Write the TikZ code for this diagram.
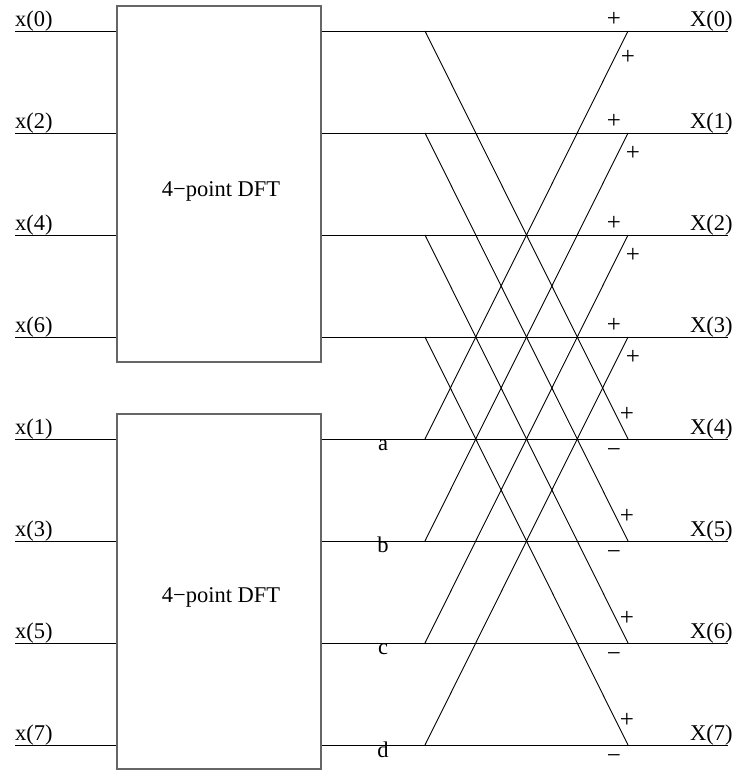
\documentclass[tikz,border=0pt]{standalone}
\usepackage{fontspec}
\setmainfont{Liberation Serif}
\usetikzlibrary{positioning,calc}

\begin{document}
\begin{tikzpicture}[x=1pt, y=1pt]

\tikzset{
  dft/.style={
    rectangle, draw=black!60, line width=1.3pt,
    minimum width=204pt, minimum height=356pt, inner sep=0pt
  },
  wire/.style={line width=0.9pt},
  lbl/.style={font=\fontsize{22.5}{26}\selectfont, inner sep=0pt},
  sgn/.style={font=\fontsize{25}{28}\selectfont, inner sep=0pt}
}

\useasboundingbox (0,0) rectangle (735,772);

% ==========================
% Rows (inputs, butterfly ends, outputs)
% ==========================
\foreach \k in {0,...,7}{
  \coordinate (in\k)  at (15, 741-102*\k);
  \coordinate (bf\k)  at (425, 741-102*\k);
  \coordinate (be\k)  at (628, 741-102*\k);
  \coordinate (out\k) at (728, 741-102*\k);
}

% ==========================
% The two 4-point DFT blocks
% ==========================
\node[dft] (dfttop) at (219, 588) {};
\node[dft, minimum height=355pt] (dftbot) at (219, 180.5) {};

\node[lbl, anchor=base] (ttop) at ($(dfttop.center)+(2,-13)$) {4−point DFT};
\node[lbl, anchor=base] (tbot) at ($(dftbot.center)+(2,-11.5)$) {4−point DFT};

% inputs into the blocks
\foreach \k in {0,...,3}
  \draw[wire] (in\k) -- (in\k -| dfttop.west);
\foreach \k in {4,...,7}
  \draw[wire] (in\k) -- (in\k -| dftbot.west);

% outputs of the blocks
\foreach \k in {0,...,3}
  \draw[wire] (out\k -| dfttop.east) -- (out\k);
\foreach \k in {4,...,7}
  \draw[wire] (out\k -| dftbot.east) -- (out\k);

% ==========================
% Butterflies
% ==========================
\foreach \k [evaluate=\k as \j using int(\k+4)] in {0,...,3}{
  \draw[wire] (bf\k) -- (be\j);
  \draw[wire] (bf\j) -- (be\k);
}

% ==========================
% Labels
% ==========================
\foreach \k/\t in {0/0,1/2,2/4,3/6,4/1,5/3,6/5,7/7}
  \node[lbl, anchor=south west] (xin\k) at (in\k) {x(\t)};
\foreach \k in {0,...,7}
  \node[lbl, anchor=south west] (xout\k) at ($(out\k)+(-38,0)$) {X(\k)};

\foreach \k/\t in {4/a,5/b,6/c,7/d}
  \node[lbl, anchor=base] (nm\k) at ($(bf\k)+(-42,-12)$) {\t};

% signs at the butterfly ends
\foreach \k in {0,...,3}
  \node[sgn] (pa\k) at ($(be\k)+(-14,12)$) {+};
\node[sgn] (pb0) at ($(be0)+(0,-26)$) {+};
\foreach \k in {1,2,3}
  \node[sgn] (pb\k) at ($(be\k)+(5,-20)$) {+};
\foreach \k in {4,...,7}{
  \node[sgn] (pc\k) at ($(be\k)+(-1,25)$) {+};
  \node[sgn] (mc\k) at ($(be\k)+(-14,-14)$) {−};
}

\end{tikzpicture}
\end{document}
